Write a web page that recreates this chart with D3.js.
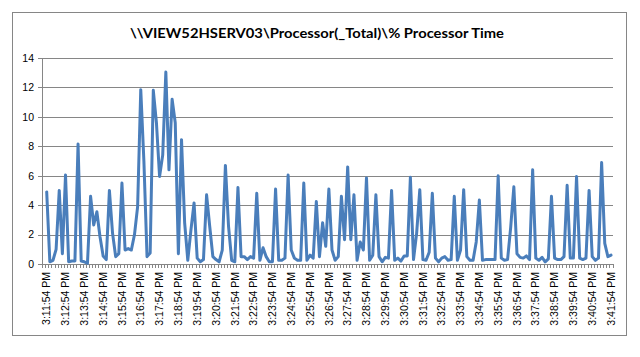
<!DOCTYPE html>
<html>
<head>
<meta charset="utf-8">
<script src="https://cdn.jsdelivr.net/npm/d3@7"></script>
<style>
  html, body { margin: 0; padding: 0; background: #ffffff; }
  svg { display: block; }
</style>
</head>
<body>
<svg id="chart" width="640" height="357"></svg>
<script>
// ---- Data ----
const chartTitle = "\\\\VIEW52HSERV03\\Processor(_Total)\\% Processor Time";

// % Processor Time, one sample every 10 seconds (first sample empty)
const values = [
  null, 4.9, 0.15, 0.25, 1.0, 5.0, 0.7, 6.05, 0.15, 0.2,
  0.2, 8.15, 0.2, 0.15, 0.05, 4.6, 2.65, 3.55, 1.85, 0.55,
  0.3, 5.0, 2.1, 0.5, 0.7, 5.5, 0.95, 1.05, 0.95, 2.0,
  3.9, 11.85, 7.0, 0.5, 0.75, 11.8, 9.6, 5.95, 7.4, 13.05,
  6.4, 11.2, 9.6, 0.7, 8.45, 2.8, 0.25, 2.3, 4.15, 0.4,
  0.15, 0.3, 4.7, 2.55, 0.5, 0.3, 0.15, 0.95, 6.7, 2.55,
  0.25, 0.15, 5.2, 0.5, 0.5, 0.3, 0.5, 0.4, 4.8, 0.25,
  1.1, 0.5, 0.15, 0.15, 5.1, 0.25, 0.25, 0.4, 6.05, 0.95,
  0.4, 0.25, 0.25, 5.5, 0.25, 0.6, 0.4, 4.25, 0.5, 2.8,
  1.2, 5.1, 0.95, 0.25, 0.5, 4.6, 1.65, 6.6, 1.65, 4.7,
  0.25, 1.5, 0.95, 5.85, 0.25, 0.6, 4.7, 0.5, 0.15, 0.45,
  0.4, 5.0, 0.25, 0.4, 0.2, 0.55, 0.55, 5.9, 0.3, 2.1,
  5.05, 0.3, 0.25, 0.8, 4.8, 0.4, 0.15, 0.4, 0.5, 0.25,
  0.3, 4.6, 0.25, 0.95, 5.05, 0.5, 0.25, 0.25, 1.5, 4.35,
  0.25, 0.3, 0.3, 0.3, 0.3, 6.0, 0.4, 0.25, 0.3, 2.5,
  5.25, 0.7, 0.45, 0.4, 0.55, 0.3, 6.4, 0.4, 0.25, 0.45,
  0.15, 0.35, 4.6, 0.4, 0.3, 0.3, 0.5, 5.35, 0.4, 0.4,
  5.95, 0.4, 0.3, 0.4, 5.0, 0.5, 0.25, 0.4, 6.9, 1.4,
  0.5, 0.6
];

// category index of each shown time label
const tickCategories = [
  1, 7, 13, 19, 25, 31, 37, 43, 49, 55, 61, 67, 73, 79, 85, 91,
  97, 103, 109, 115, 121, 127, 133, 139, 145, 151, 157, 163, 169, 175, 181
];
const tickLabels = [
  "3:11:54 PM", "3:12:54 PM", "3:13:54 PM", "3:14:54 PM", "3:15:54 PM",
  "3:16:54 PM", "3:17:54 PM", "3:18:54 PM", "3:19:54 PM", "3:20:54 PM",
  "3:21:54 PM", "3:22:54 PM", "3:23:54 PM", "3:24:54 PM", "3:25:54 PM",
  "3:26:54 PM", "3:27:54 PM", "3:28:54 PM", "3:29:54 PM", "3:30:54 PM",
  "3:31:54 PM", "3:32:54 PM", "3:33:54 PM", "3:34:54 PM", "3:35:54 PM",
  "3:36:54 PM", "3:37:54 PM", "3:38:54 PM", "3:39:54 PM", "3:40:54 PM",
  "3:41:54 PM"
];
const yTicks = [0, 2, 4, 6, 8, 10, 12, 14];

// ---- Layout ----
const W = 640, H = 357;
const plot = { left: 42, right: 612.6, top: 58, bottom: 264 };
const gridColor = "#868686";
const lineColor = "#4A7EBB";
const axisFont = "'Liberation Sans', Arial, sans-serif";

const svg = d3.select("#chart");

svg.append("rect")
  .attr("x", 0).attr("y", 0).attr("width", W).attr("height", H)
  .attr("fill", "#ffffff");

// chart frame
svg.append("rect")
  .attr("x", 12.5).attr("y", 12.5)
  .attr("width", 614).attr("height", 323)
  .attr("fill", "#ffffff")
  .attr("stroke", gridColor).attr("stroke-width", 1);

// title
svg.append("text")
  .attr("x", 317).attr("y", 37.5)
  .attr("text-anchor", "middle")
  .attr("font-family", "Lato, 'Open Sans', sans-serif")
  .attr("font-weight", "bold")
  .attr("font-size", 13.5)
  .attr("fill", "#000000")
  .attr("textLength", 374)
  .attr("lengthAdjust", "spacingAndGlyphs")
  .text(chartTitle);

const N = values.length;
const x = d3.scaleBand().domain(d3.range(N)).range([plot.left, plot.right]).padding(0);
const xb = d3.scaleLinear().domain([0, N]).range([plot.left, plot.right]);
const y = d3.scaleLinear().domain([0, 14]).range([plot.bottom, plot.top]);
const cx = i => x(i) + x.bandwidth() / 2;

// horizontal gridlines
const grid = svg.append("g")
  .attr("transform", `translate(${plot.left},0)`)
  .call(d3.axisLeft(y).tickValues(yTicks.filter(v => v > 0))
    .tickSize(-(plot.right - plot.left)).tickFormat(""));
grid.select(".domain").remove();
grid.selectAll("line").attr("stroke", gridColor).attr("shape-rendering", "crispEdges");

// y axis with labels
const yAxis = svg.append("g")
  .attr("transform", `translate(${plot.left},0)`)
  .call(d3.axisLeft(y).tickValues(yTicks).tickSizeInner(4).tickSizeOuter(0).tickPadding(4)
    .tickFormat(d3.format("d")));
yAxis.select(".domain").attr("stroke", gridColor).attr("shape-rendering", "crispEdges");
yAxis.selectAll("line").attr("stroke", gridColor).attr("shape-rendering", "crispEdges");
yAxis.selectAll("text")
  .attr("font-family", axisFont).attr("font-size", 10.5).attr("fill", "#000000");

// x axis: tick marks at every category boundary
const xAxis = svg.append("g")
  .attr("transform", `translate(0,${plot.bottom})`)
  .call(d3.axisBottom(xb).tickValues(d3.range(N + 1)).tickSizeInner(4).tickSizeOuter(0)
    .tickFormat(""));
xAxis.select(".domain").attr("stroke", gridColor).attr("shape-rendering", "crispEdges");
xAxis.selectAll("line").attr("stroke", gridColor).attr("shape-rendering", "crispEdges");

// rotated time labels
svg.append("g").selectAll("text")
  .data(tickCategories)
  .join("text")
  .attr("transform", d => `translate(${cx(d)},${plot.bottom + 8}) rotate(-90)`)
  .attr("text-anchor", "end")
  .attr("dy", "0.35em")
  .attr("font-family", axisFont)
  .attr("font-size", 10.5)
  .attr("fill", "#000000")
  .text((d, i) => tickLabels[i]);

// data line
const line = d3.line()
  .defined(d => d != null)
  .x((d, i) => cx(i))
  .y(d => y(d));

svg.append("path")
  .datum(values)
  .attr("d", line)
  .attr("fill", "none")
  .attr("stroke", lineColor)
  .attr("stroke-width", 3)
  .attr("stroke-linejoin", "round")
  .attr("stroke-linecap", "round");
</script>
</body>
</html>
